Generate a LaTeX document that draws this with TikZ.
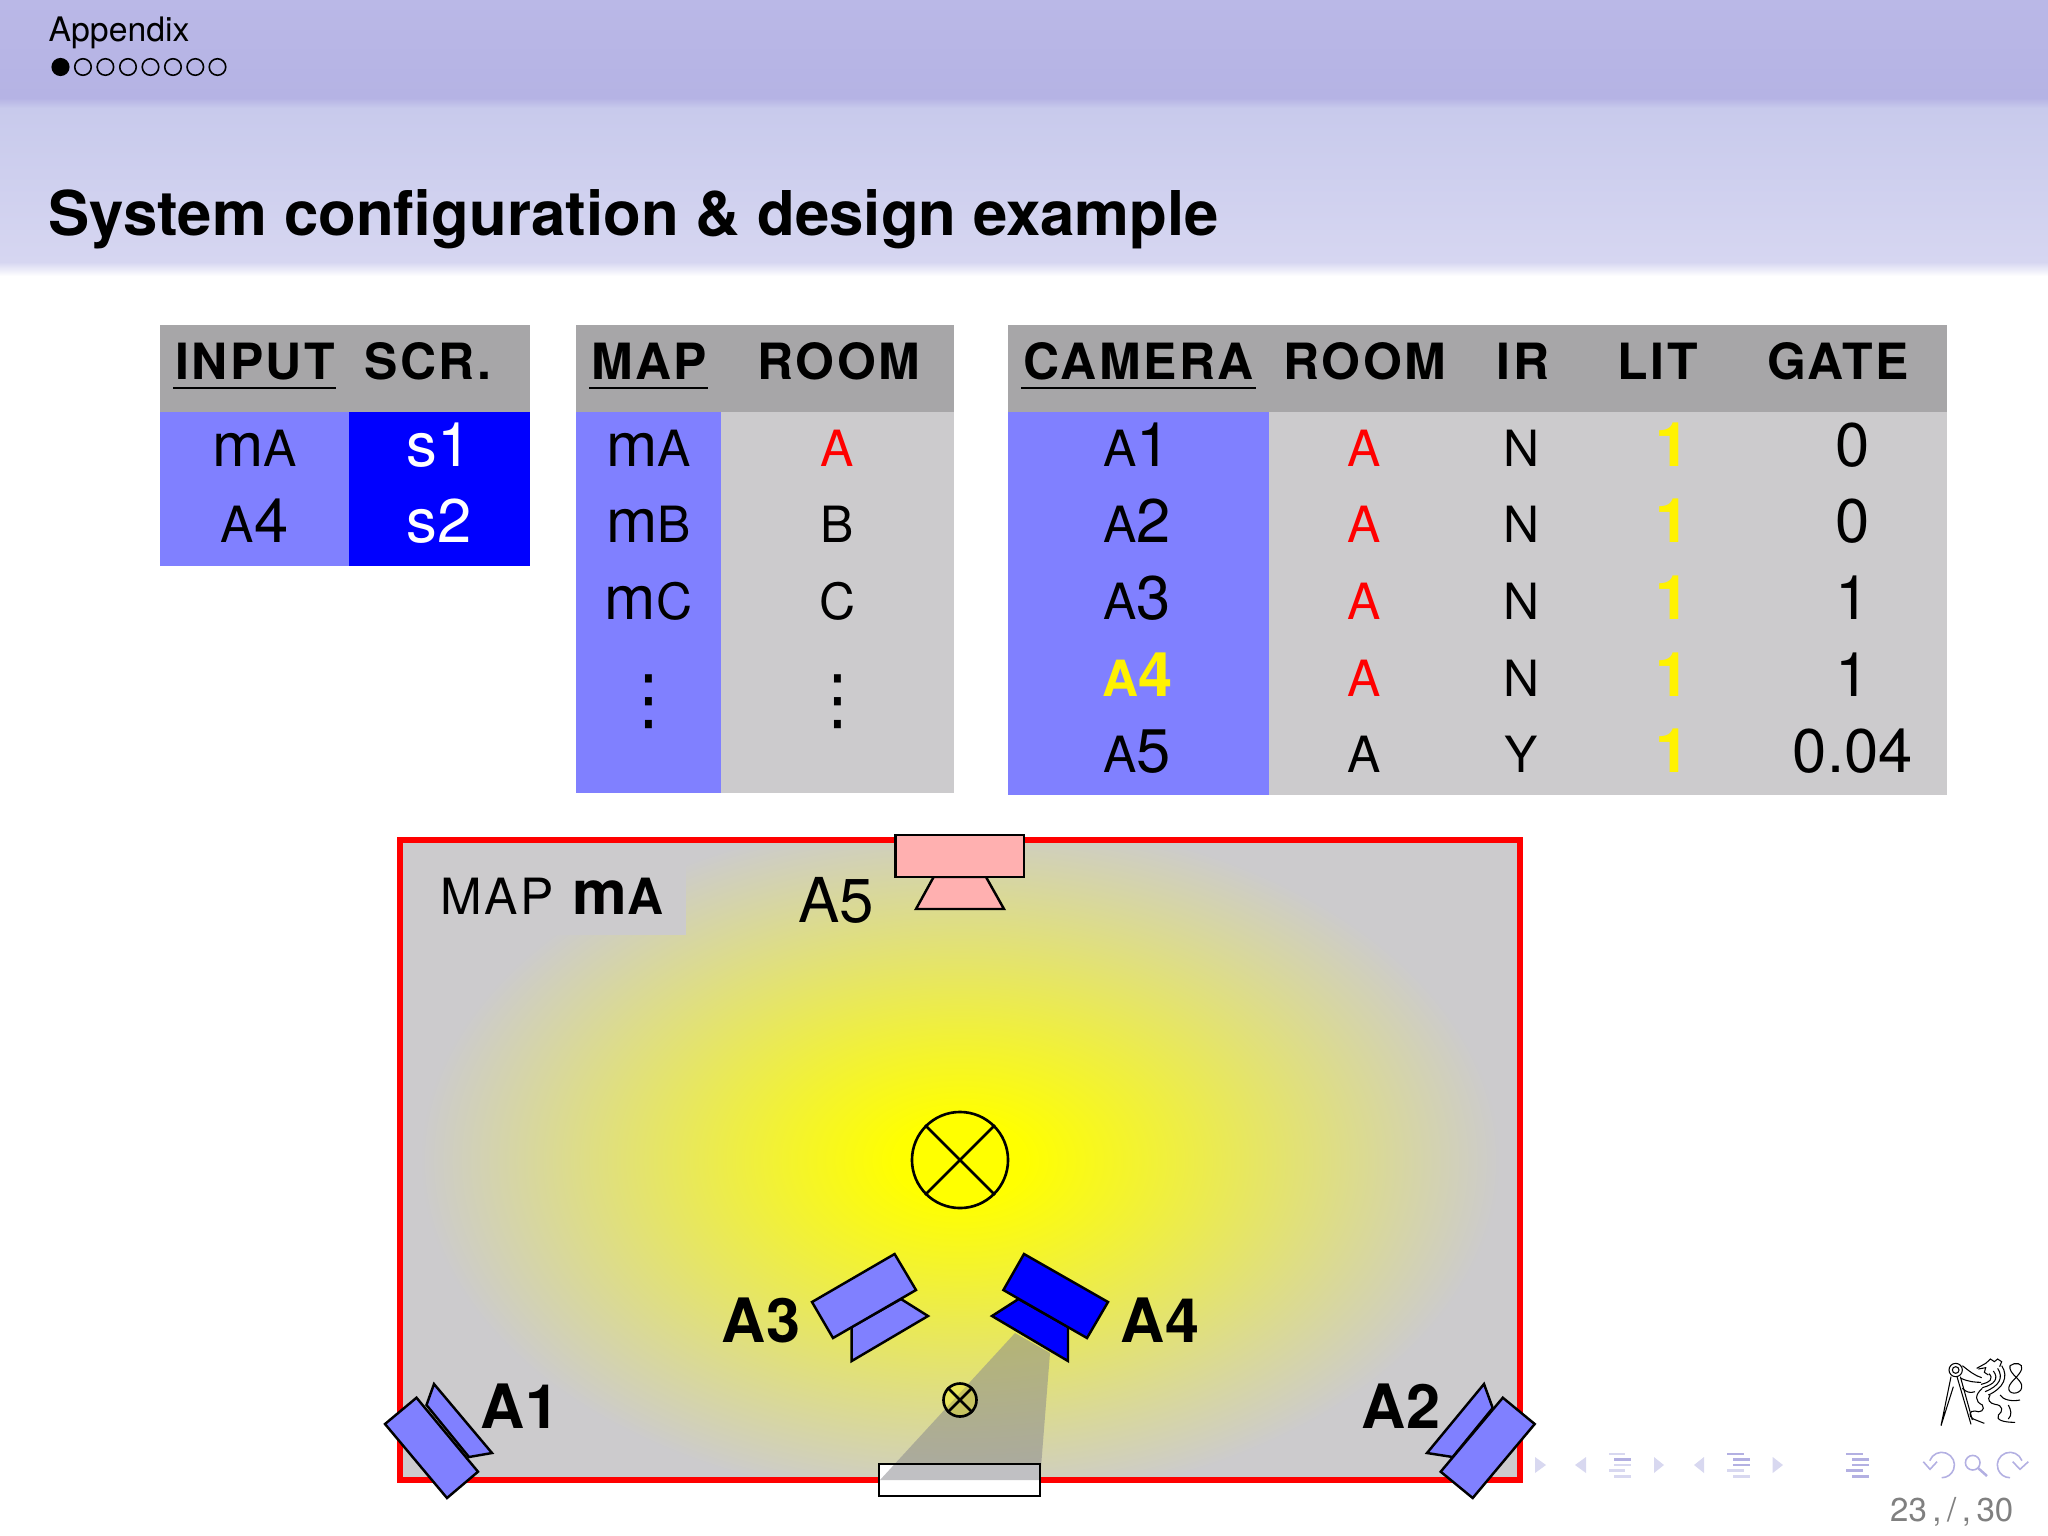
\documentclass[tikz,border=0pt]{standalone}
\usepackage{fontspec}
\setmainfont{TeX Gyre Heros}
\newfontfamily\headfont[LetterSpace=5]{TeX Gyre Heros}
\newfontfamily\symbfont{DejaVu Sans}
\usetikzlibrary{arrows.meta,positioning,calc}
\definecolor{bandtop}{HTML}{BAB8E7}
\definecolor{bandmid}{HTML}{B5B3E4}
\definecolor{bandlow}{HTML}{C8CAEC}
\definecolor{bandend}{HTML}{D6D6F1}
\definecolor{headgray}{HTML}{A7A6A8}
\definecolor{roomgray}{HTML}{CCCBCD}
\definecolor{softblue}{HTML}{8080FF}
\definecolor{fullblue}{HTML}{0000FF}
\definecolor{softpink}{HTML}{FFB0B0}
\definecolor{conegray}{HTML}{87878C}
\definecolor{navlight}{HTML}{D8D8F0}
\definecolor{navdark}{HTML}{B3B0E2}
\pgfdeclareradialshading{lampglow}{\pgfpoint{0bp}{0bp}}{color(0bp)=(yellow); color(3bp)=(yellow); color(25bp)=(roomgray); color(50bp)=(roomgray)}
\newcommand{\smcap}[1]{{\fontsize{14.2}{16}\selectfont #1}}
\newcommand{\navbars}[7]{%
  \fill[#3] (#1,1452.7) rectangle ++(16.6,2.7);
  \fill[#4] (#2,1458) rectangle ++(16.6,2.7);
  \fill[#5] (#2,1463.7) rectangle ++(16.6,2.7);
  \fill[#6] (#1,1469.4) rectangle ++(16.6,2.7);
  \fill[#7] (#2,1475) rectangle ++(16.6,2.7);}

\begin{document}
\begin{tikzpicture}[x=0.01cm,y=-0.01cm,
      hdr/.style={anchor=base, inner sep=0pt, font=\headfont\bfseries\fontsize{14.2}{17}\selectfont},
      under/.style={line width=0.6pt},
      cell/.style={anchor=base, inner sep=0pt, font=\fontsize{17.5}{20}\selectfont},
      lit/.style={cell, text=yellow, font=\bfseries\fontsize{17.5}{20}\selectfont},
      stacked/.style={anchor=center, inner sep=0pt, font=\symbfont\fontsize{19}{20}\selectfont},
      camlabel/.style={anchor=base, inner sep=0pt, font=\bfseries\fontsize{17.4}{20}\selectfont},
      cam/.style={draw=black, line width=0.7pt, line join=miter},
      lamp/.style={draw=black, line width=0.75pt},
      navdot/.style={circle, draw=black, line width=0.45pt, inner sep=0pt, minimum size=0.165cm},
      navtri/.style={fill=navlight},
      navline/.style={draw=navdark, line width=0.45pt}]
    \useasboundingbox (0,0) rectangle (2048,1536);

    % title bands
    \shade[top color=bandtop, bottom color=bandmid] (0,0) rectangle (2048,98);
    \shade[top color=bandmid, bottom color=bandlow] (0,98) rectangle (2048,108);
    \shade[top color=bandlow, bottom color=bandend] (0,108) rectangle (2048,262);
    \shade[top color=bandend, bottom color=white] (0,262) rectangle (2048,276);
    \node[anchor=base west, inner sep=0pt, font=\fontsize{9.6}{12}\selectfont] (section) at (48,41) {Appendix};
    \node[navdot, fill=black] (d0) at (60.5,67) {};
    \node[navdot] (d1) at (83,67) {};
    \node[navdot] (d2) at (105.4,67) {};
    \node[navdot] (d3) at (128,67) {};
    \node[navdot] (d4) at (150.5,67) {};
    \node[navdot] (d5) at (173,67) {};
    \node[navdot] (d6) at (195.3,67) {};
    \node[navdot] (d7) at (217.5,67) {};
    \node[anchor=base west, inner sep=0pt, font=\bfseries\fontsize{17.55}{22}\selectfont] (title) at (48,235) {System configuration \& design example};

    % input table
    \fill[headgray] (160,325) rectangle (530,412);
    \fill[softblue] (160,412) rectangle (349,566);
    \fill[fullblue] (349,412) rectangle (530,566);
    \node[hdr] (inHead) at (255,379) {INPUT};
    \node[hdr] (scrHead) at (428,379) {SCR.};
    \draw[under] (173,388) -- (336,388);
    \node[cell] (in1) at (254.5,466) {m\smcap{A}};
    \node[cell] (in2) at (254.5,542) {\smcap{A}4};
    \node[cell, text=white] (scr1) at (439,466) {s1};
    \node[cell, text=white] (scr2) at (439,542) {s2};

    % map table
    \fill[headgray] (576,325) rectangle (954,412);
    \fill[softblue] (576,412) rectangle (721,793);
    \fill[roomgray] (721,412) rectangle (954,793);
    \node[hdr] (mapHead) at (649,379) {MAP};
    \node[hdr] (roomHead) at (838.7,379) {ROOM};
    \draw[under] (589,388) -- (707.5,388);
    \node[cell] (mapA) at (648.5,466) {m\smcap{A}};
    \node[cell] (mapB) at (648.5,542) {m\smcap{B}};
    \node[cell] (mapC) at (648.5,619) {m\smcap{C}};
    \node[stacked] (mapMore) at (648.5,702) {⋮};
    \node[cell, text=red] (roomA) at (837.5,466) {\smcap{A}};
    \node[cell] (roomB) at (837.5,542) {\smcap{B}};
    \node[cell] (roomC) at (837.5,619) {\smcap{C}};
    \node[stacked] (roomMore) at (837.5,702) {⋮};

    % camera table
    \fill[headgray] (1008,325) rectangle (1947,412);
    \fill[softblue] (1008,412) rectangle (1268.6,795);
    \fill[roomgray] (1268.6,412) rectangle (1947,795);
    \node[hdr] (camHead) at (1138.6,379) {CAMERA};
    \node[hdr] (camRoomHead) at (1365,379) {ROOM};
    \node[hdr] (irHead) at (1523,379) {IR};
    \node[hdr] (litHead) at (1657.6,379) {LIT};
    \node[hdr] (gateHead) at (1838,379) {GATE};
    \draw[under] (1021,388) -- (1255.6,388);
    \node[cell] (cam1) at (1137.4,466) {\smcap{A}1};
    \node[cell] (cam2) at (1137.4,542) {\smcap{A}2};
    \node[cell] (cam3) at (1137.4,619) {\smcap{A}3};
    \node[cell, text=yellow, font=\bfseries\fontsize{17.5}{20}\selectfont] (cam4) at (1137.4,696) {\smcap{A}4};
    \node[cell] (cam5) at (1137.4,772) {\smcap{A}5};
    \node[cell, text=red] (room1) at (1364.5,466) {\smcap{A}};
    \node[cell, text=red] (room2) at (1364.5,542) {\smcap{A}};
    \node[cell, text=red] (room3) at (1364.5,619) {\smcap{A}};
    \node[cell, text=red] (room4) at (1364.5,696) {\smcap{A}};
    \node[cell] (room5) at (1364.5,772) {\smcap{A}};
    \node[cell] (ir1) at (1521.6,466) {\smcap{N}};
    \node[cell] (ir2) at (1521.6,542) {\smcap{N}};
    \node[cell] (ir3) at (1521.6,619) {\smcap{N}};
    \node[cell] (ir4) at (1521.6,696) {\smcap{N}};
    \node[cell] (ir5) at (1521.6,772) {\smcap{Y}};
    \node[lit] (lit1) at (1673,466) {1};
    \node[lit] (lit2) at (1673,542) {1};
    \node[lit] (lit3) at (1673,619) {1};
    \node[lit] (lit4) at (1673,696) {1};
    \node[lit] (lit5) at (1673,772) {1};
    \node[cell] (gate1) at (1852.7,466) {0};
    \node[cell] (gate2) at (1852.7,542) {0};
    \node[cell] (gate3) at (1852.7,619) {1};
    \node[cell] (gate4) at (1852.7,696) {1};
    \node[cell] (gate5) at (1852.7,772) {0.04};

    % room with the light falling off round the lamp
    \fill[roomgray] (400,840) rectangle (1520,1480);
    \begin{scope}
      \clip (400,840) rectangle (1520,1480);
      \shade[shading=lampglow] (960,1160) ellipse [x radius=540, y radius=345];
    \end{scope}
    \fill[roomgray] (403,844) rectangle (686,935);
    \draw[red, line width=1.85pt] (400,840) rectangle (1520,1480);
    \node[anchor=base west, inner sep=0pt, font=\headfont\fontsize{14.2}{17}\selectfont] (mapName) at (440,914) {MAP};
    \node[anchor=base west, inner sep=0pt, font=\headfont\bfseries\fontsize{17.5}{20}\selectfont] (mapValue) at (572,914) {m\smcap{A}};

    % lamps
    \node[lamp, circle, inner sep=0pt, minimum size=0.96cm] (lampBig) at (960,1160) {};
    \draw[lamp] (lampBig.north west) -- (lampBig.south east);
    \draw[lamp] (lampBig.north east) -- (lampBig.south west);

    % door seen by camera A4
    \fill[white] (879,1464) rectangle (1040,1496);
    \fill[conegray, opacity=0.52] (1015,1333) -- (1050,1353) -- (1040,1480) -- (880,1480) -- cycle;
    \draw[lamp, line width=0.8pt] (879,1464) rectangle (1040,1496);
    \node[lamp, circle, fill=yellow, fill opacity=0.3, inner sep=0pt, minimum size=0.33cm] (lampSmall) at (960,1400) {};
    \draw[lamp] (lampSmall.north west) -- (lampSmall.south east);
    \draw[lamp] (lampSmall.north east) -- (lampSmall.south west);

    % cameras
    \filldraw[cam, fill=softblue] (434,1384) -- (492,1453) -- (469,1457) -- (426.5,1405) -- cycle;
    \filldraw[cam, fill=softblue] (416.5,1397.7) -- (478,1471.7) -- (447,1498) -- (385,1424) -- cycle;
    \filldraw[cam, fill=softblue] (1484,1384) -- (1492.7,1408) -- (1452.7,1457) -- (1427,1453) -- cycle;
    \filldraw[cam, fill=softblue] (1502.8,1397.7) -- (1534.7,1424) -- (1472.7,1498) -- (1440.7,1471.7) -- cycle;
    \filldraw[cam, fill=softblue] (901,1299) -- (928,1316) -- (851.7,1361) -- (851.7,1327) -- cycle;
    \filldraw[cam, fill=softblue] (894.6,1254) -- (916,1290) -- (833,1338) -- (812,1302) -- cycle;
    \filldraw[cam, fill=fullblue] (1018.5,1299) -- (992,1316) -- (1068,1361) -- (1068,1327) -- cycle;
    \filldraw[cam, fill=fullblue] (1024,1254) -- (1108,1302) -- (1087,1338) -- (1003.4,1290) -- cycle;
    \filldraw[cam, fill=softpink] (933.6,877) -- (986,877) -- (1004,909) -- (916,909) -- cycle;
    \filldraw[cam, fill=softpink] (895.6,835) rectangle (1024,877);
    \node[camlabel] (labA1) at (520,1428) {A1};
    \node[camlabel] (labA2) at (1401,1428) {A2};
    \node[camlabel] (labA3) at (761,1342) {A3};
    \node[camlabel] (labA4) at (1160,1342) {A4};
    \node[anchor=base, inner sep=0pt, font=\fontsize{17.6}{20}\selectfont] (labA5) at (836,922) {A5};

    % navigation symbols
    \fill[navtri] (1535,1457) -- (1546,1465) -- (1535,1473) -- cycle;
    \fill[navtri] (1586,1457) -- (1575,1465) -- (1586,1473) -- cycle;
    \navbars{1608.7}{1614.3}{navlight}{navdark}{navlight}{navlight}{navlight}
    \fill[navtri] (1654,1457) -- (1664,1465) -- (1654,1473) -- cycle;
    \fill[navtri] (1704,1457) -- (1694,1465) -- (1704,1473) -- cycle;
    \navbars{1727.3}{1733.3}{navdark}{navdark}{navdark}{navlight}{navlight}
    \fill[navtri] (1772.7,1457) -- (1783,1465) -- (1772.7,1473) -- cycle;
    \navbars{1846}{1852}{navdark}{navdark}{navdark}{navdark}{navdark}
    \draw[navline] (1941.7,1465) ++(200:12.7) arc [start angle=200, end angle=450, radius=12.7];
    \draw[navline] (1923.3,1461.7) -- (1930,1469.3) -- (1937,1461.7);
    \draw[navline] (1972.7,1462.7) circle [radius=7.3];
    \draw[navline, line width=0.7pt] (1978,1468) -- (1987,1476);
    \draw[navline] (2010,1465) ++(-20:12.7) arc [start angle=-20, end angle=-270, radius=12.7];
    \draw[navline] (2012.7,1461.7) -- (2020,1469.3) -- (2028.3,1461.7);
    \node[anchor=base east, inner sep=0pt, text=black!50, font=\fontsize{9.4}{12}\selectfont] (page) at (2014,1521) {23\,,\,/\,,\,30};

    % lion of the logo, rough line art
    \begin{scope}[shift={(1925,1345)}, scale=1/3, line width=0.3pt]
      \draw (92,75) circle [radius=20];
      \draw (92,75) circle [radius=10];
      \draw (78,95) -- (48,242) -- (85,125);
      \draw (96,95) -- (138,238);
      \draw (106,95) -- (142,225);
      \draw (112,62) .. controls (135,80) and (150,92) .. (170,98);
      \draw (108,100) .. controls (130,110) and (150,112) .. (168,112);
      \draw (155,70) -- (182,55) -- (190,48) -- (196,42) -- (208,50) -- (218,42) -- (230,50) -- (224,65);
      \draw (160,72) -- (182,68) -- (178,82) -- (190,90);
      \draw (230,62) .. controls (252,95) and (235,130) .. (190,150);
      \draw (218,70) .. controls (236,98) and (224,122) .. (180,140);
      \draw (205,78) .. controls (222,100) and (210,118) .. (172,128);
      \draw (192,86) .. controls (206,100) and (196,112) .. (168,118);
      \draw (255,62) .. controls (270,50) and (295,55) .. (290,72) .. controls (284,95) and (245,115) .. (252,135) .. controls (258,152) and (295,145) .. (290,120) .. controls (285,100) and (250,85) .. (255,62);
      \draw (172,130) .. controls (148,150) and (150,170) .. (172,180) .. controls (182,195) and (165,205) .. (150,198) .. controls (132,195) and (130,215) .. (145,222) -- (178,235);
      \draw (195,150) .. controls (185,165) and (195,175) .. (210,178) .. controls (235,180) and (235,200) .. (220,210) .. controls (212,225) and (235,232) .. (270,232);
      \draw (225,150) .. controls (235,165) and (260,170) .. (285,165);
      \draw (250,180) .. controls (258,195) and (262,210) .. (250,222);
      \draw (112,130) .. controls (125,142) and (135,145) .. (150,140);
    \end{scope}
  \end{tikzpicture}
\end{document}
